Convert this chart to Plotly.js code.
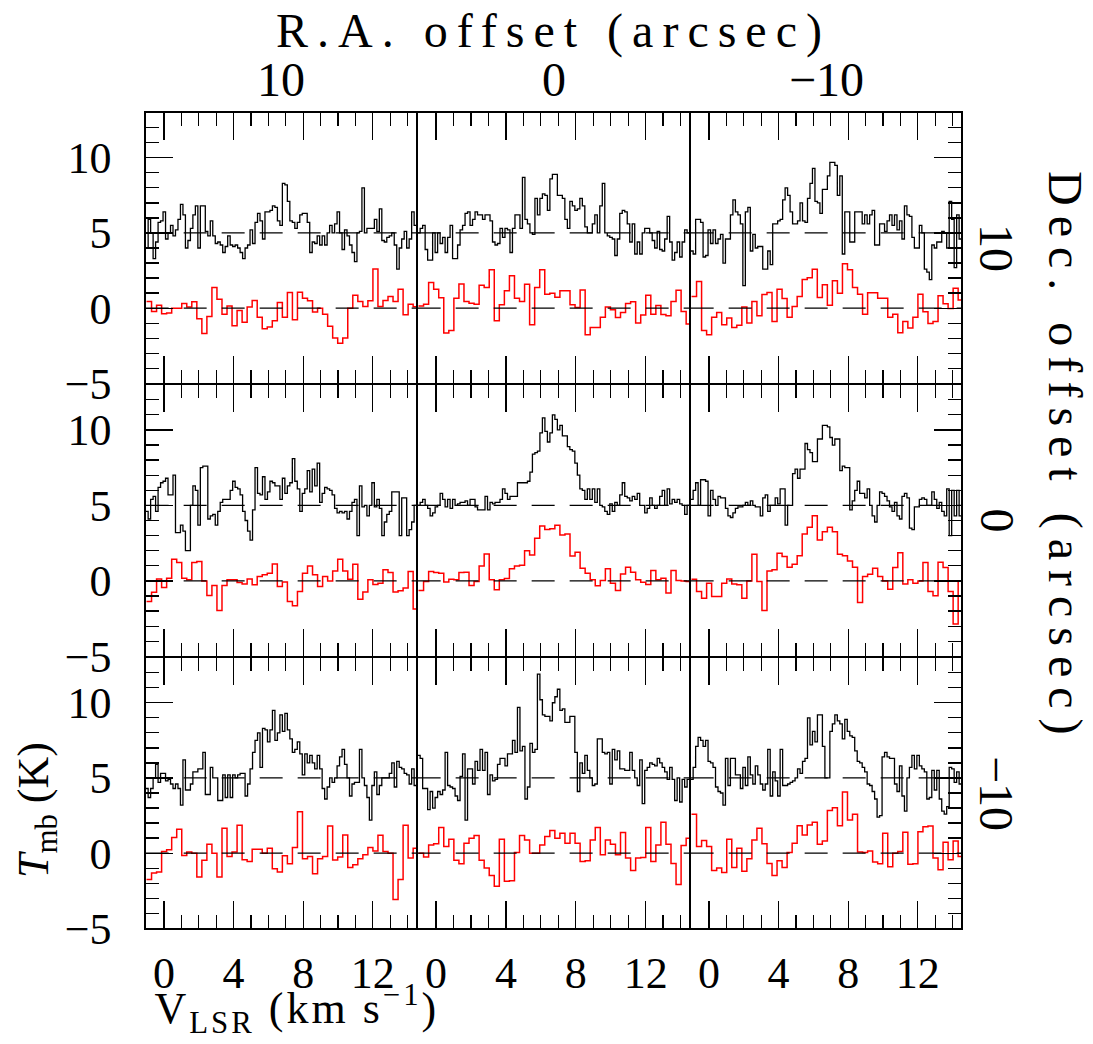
<!DOCTYPE html>
<html><head><meta charset="utf-8">
<script src="https://cdn.plot.ly/plotly-3.0.1.min.js"></script>
<style>html,body{margin:0;padding:0;background:#fff}</style>
</head><body><div id="chart" style="width:1093px;height:1044px"></div>
<script>
// ---------------- data ----------------
const raOffsets = [10, 0, -10];     // columns (arcsec)
const decOffsets = [10, 0, -10];    // rows (arcsec)
const velTicks = [0, 4, 8, 12];
const vStartA = -1.05, dvA = 0.1428;  // black spectrum channel grid (km/s)
const vStartB = -1.0, dvB = 0.289;    // red spectrum channel grid (km/s)
const offsetA = 5;                    // black spectrum is shifted up by 5 K

// black spectra (T_mb, K, before +5 offset)
const blackRA10Dec10 = [-1.0,0.9,0,-1.7,-0.6,0.7,0.8,1.4,-0.4,0,0.5,-0.2,0.2,0.9,1.9,1.2,-1.0,-0.5,0.3,1.2,1.8,-1.0,1.8,1.8,0.1,-0.2,0.8,-0.2,-0.7,-0.6,-0.8,-1.3,-0.9,-0.2,-0.8,-0.9,-0.8,-1.0,-1.3,-1.7,-1.0,-0.8,0.2,-0.7,0.7,1.3,0.8,-0.4,1.4,1.4,1.5,1.8,1.7,0.8,0.5,3.3,3.2,2.1,0.8,0.7,0.3,0.7,1.2,1.3,1.3,0.7,-1.3,-0.6,-0.7,-0.2,-0.8,-0.2,-0.8,0,0.5,0,0.6,1.4,0,-1.1,0.2,-0.2,-0.8,-1.3,-1.9,0,0.1,3.0,0,0.3,0.3,0.3,0.9,0.1,1.6,-0.5,-0.6,-0.3,-0.2,0,-0.8,-2.4,-1.0,-0.4,0.1,-1.0,-0.4,1.4,0.5];
const blackRA0Dec10 = [0,0.3,0.5,-1.1,-1.8,-1.8,0,-1.3,0,-0.7,-0.3,-1.3,-0.3,0.5,-1.7,-1.7,-0.8,0.2,0.5,1.3,1.4,0.5,0.9,1.4,1.2,1.2,0.9,1.2,1.2,0.8,-0.6,-0.8,-0.7,0.3,-0.3,0.3,0.2,-1.3,0.3,1.2,1.2,0.3,3.7,0.9,0.6,0,-0.1,2.3,1.2,2.3,2.6,2.5,1.5,3.6,3.9,3.9,2.5,2.5,2.3,0.9,0.3,2.1,1.8,1.5,1.6,2.3,1.8,0.4,0,0,0.6,1.2,0,1.8,3.3,0,-0.2,-0.3,-0.4,-1.5,-0.4,1.3,1.5,1.4,0.6,-0.6,0.6,-1.4,-0.6,-1.4,0,0.3,0.3,0,-0.5,-1.0,0.1,-1.1,-1.2,-0.4,1.1,-0.6,-1.8,-1.3,-0.6,-1.6,-0.6,0.2,0];
const blackRAm10Dec10 = [-1.2,-1.4,0.9,0.9,0.7,-1.6,-1.5,0.2,-0.7,0.2,-0.7,-0.4,-0.1,-2.0,-0.4,-0.4,1.2,2.2,1.4,1.2,0.6,-3.5,1.4,1.7,-1.2,-0.1,-1.0,-0.9,-0.9,-2.4,-2.4,-1.2,-2.1,0.6,0.6,0.8,0.9,2.2,3.0,2.5,1.4,0.6,0.6,0.8,2.0,0.8,0.7,2.3,3.3,4.3,2.1,2.0,1.3,2.9,2.9,3.8,4.7,4.7,4.5,2.5,3.8,-1.4,1.4,1.4,-0.6,-0.6,1.4,1.4,1.4,0.6,1.2,0.6,1.2,1.5,-0.8,-0.8,0.6,0.6,0.1,0.8,1.2,0.5,1.2,0.2,0.8,-0.4,1.8,1.2,1.1,-0.3,-1.0,-1.0,0.5,0,-2.4,-2.6,-3.1,-0.8,-1.0,-0.6,-0.6,0.1,0,-1.0,2.1,0.9,-2.3,1.2,-0.4];
const blackRA10Dec0 = [-0.4,-0.9,0.4,0.6,-0.4,1.2,1.5,1.6,1.8,0.7,0.7,2.0,-1.8,-1.8,-1.3,-1.7,-3.0,-3.0,0,1.3,1.0,-1.3,2.5,2.6,2.6,-0.9,-0.7,-0.6,-1.3,-0.4,0.2,0.4,0.4,0.4,1.0,1.6,1.2,1.1,0.7,-0.4,-1.0,-1.7,-2.3,-0.3,2.5,0.8,0.7,1.9,0.4,0.9,1.6,1.5,1.3,1.3,0.4,1.8,0.8,1.3,1.5,3.1,1.6,1.1,-0.4,0.8,1.1,2.3,0.9,2.4,1.3,2.8,0.2,0.8,1.2,1.1,1.0,0.7,-0.2,-0.5,-0.4,-0.5,-0.4,-0.9,-0.4,0.2,0.4,-2.0,1.3,-0.1,0,-0.7,0,1.5,-0.1,0.4,-0.2,-2.0,-1.1,-0.6,-0.4,0.9,0.9,0.9,-2.0,0.5,0.5,-2.0,-1.6,-1.1,0];
const blackRA0Dec0 = [0,0.2,0.4,0,-0.2,-0.7,-0.5,-0.1,0,0.8,0.4,-0.1,0.4,-0.2,0.4,0,0.1,0.2,0.2,0.3,0,0.4,0.4,-0.1,-0.3,-0.3,-0.3,0.6,-0.3,0.2,0.1,0.2,0.2,0.4,1.1,0.8,0.4,0.6,0.6,0.6,1.5,1.5,1.5,1.5,1.6,2.2,3.4,3.5,3.6,4.8,5.8,4.9,4.2,4.8,6.0,5.7,5.0,5.3,4.6,4.6,3.9,3.7,3.6,2.8,2.0,1.1,1.0,0.4,1.1,0.4,1.1,0.2,1.1,0,-0.1,-0.4,-0.6,0.1,-0.4,0.2,0,0.7,1.5,0.6,0.5,0.3,0.6,0.4,0.8,0,0,-0.5,-0.2,0.5,0,-0.2,0,0.6,1.0,0,1.1,0.1,0.4,0.2,0.4,0.1,0,-0.6,0];
const blackRAm10Dec0 = [0.4,1.0,1.5,0,1.7,1.7,1.6,-0.7,1.0,0.4,0,0.6,0.5,0.5,-0.2,-0.7,-0.8,-0.5,-0.2,-0.1,-0.1,0,0.2,0,0.3,0,-0.1,-0.1,-0.7,0.5,0.7,-0.4,0,0,0.5,0.1,1.1,1.1,-1.3,0,0,2.1,2.4,1.8,2.4,2.4,4.1,3.7,3.5,2.9,2.9,4.4,4.4,5.3,5.3,5.2,4.5,4.0,4.4,4.4,2.3,2.6,2.5,2.5,-0.3,0.3,1.0,1.6,0.8,0.8,0.5,1.1,0,-0.7,-1.1,0,0.9,0.8,0.6,0.3,-0.1,-0.4,0.2,-0.7,-0.9,0.6,0.8,0.5,-1.5,-1.6,-0.1,-0.1,0.4,0.5,0.4,0,0,0.9,0.4,-0.2,0.2,-0.4,-0.7,1.1,-2.0,1.0,-0.7,1.0,-0.7];
const blackRA10Decm10 = [-0.7,-1.3,-0.7,0,0.9,-0.3,0.3,0.3,-0.2,-0.1,-0.4,-0.7,-0.4,-0.7,-1.8,1.2,-0.8,-0.8,-0.4,0.4,0.4,0.6,0.6,1.7,-1.1,-1.1,0.7,0,0,-1.5,-1.5,0.2,-1.3,0.2,-1.3,0.2,0,0.2,0.3,0.3,-1.2,-0.4,0.6,1.7,2.5,3.0,0.7,3.3,3.2,2.4,3.2,4.5,2.5,3.0,4.2,3.1,4.3,3.2,2.6,1.7,1.9,2.4,1.6,0.2,1.6,1.0,1.5,1.0,0.6,1.5,0.6,-0.7,-1.4,-0.6,0,-0.3,0,0.8,1.4,1.9,0.9,0,-1.2,-0.4,-0.3,-0.3,1.9,0,-0.5,-1.3,-2.8,-0.5,0.4,-1.1,-0.5,0,0,0,0.3,1.0,-0.6,1.1,0.7,0.6,0.3,0.2,-0.4,0.6,-0.5];
const blackRA0Decm10 = [1.5,1.3,-0.7,-0.7,-2.1,-0.9,-2.0,-1.3,-0.9,-1.1,-0.8,1.7,-0.5,-0.6,-0.7,-1.2,-1.5,0.1,1.6,-2.8,0.6,0.6,-0.4,1.1,0.5,1.9,0.5,1.7,-1.1,0.2,-0.2,-0.1,0.9,1.3,1.3,0.8,1.6,1.6,2.5,1.7,4.7,1.8,2.1,-1.4,-0.6,2.3,1.7,1.9,6.9,5.2,4.2,4.1,4.1,3.8,5.0,5.4,5.9,4.5,4.6,3.7,3.7,4.1,4.1,1.7,-0.9,1.0,0.3,1.5,0.5,0,-0.5,-0.4,2.6,2.6,1.7,1.6,1.7,-0.4,1.9,1.2,1.8,0.6,0.6,0.5,0.5,1.7,0.5,0,-0.5,1.2,-1.7,0.5,0.7,1.0,0.9,0.8,1.3,1.0,0.7,0.4,-0.1,0.7,-0.1,-1.5,0,-1.6,-0.1,-0.6,-0.1];
const blackRAm10Decm10 = [-0.1,0.7,2.1,2.7,2.5,2.1,2.5,1.1,1.0,0.7,-0.6,-0.9,-1.0,-1.8,1.3,-0.5,1.3,1.3,0.2,0.2,-0.7,0.7,-0.5,1.4,0.2,-0.4,0.8,0.2,-0.4,-0.8,-0.4,1.9,-1.2,0.4,-0.2,-1.2,1.9,-0.5,-0.5,-0.4,-0.3,-0.2,0,0.6,0.3,1.1,1.3,4.0,2.2,3.1,2.4,4.2,4.2,2.1,0,0,3.1,3.6,4.2,3.8,3.6,2.6,3.9,3.1,2.8,2.7,1.8,1.1,1.0,0.7,0.4,-0.4,-0.5,-0.9,-1.4,-2.6,-2.5,1.4,1.7,1.4,1.3,1.3,-0.4,-0.9,0.8,-1.2,-2.2,0,0.7,1.5,0.6,1.5,0.8,0.6,0.4,-1.4,-1.3,0.5,-0.8,0.5,-1.4,-2.2,-2.4,-1.9,0.7,0.6,-0.3,0.4,-0.4];

// red spectra (T_mb, K)
const redRA10Dec10 = [0.44,-0.22,0.2,-0.38,-0.33,0,0,0.31,0.07,0.42,-0.71,-1.68,-0.55,1.37,0.6,-0.4,0.15,-1.17,-0.15,-0.93,0.07,0.51,-0.6,-1.37,-1.26,-0.84,0.38,-0.6,1.04,-0.77,1.06,0.66,0.49,-0.26,0,-0.4,-1.21,-1.99,-2.34,-1.99,0,0.86,0.44,0.11,0.49,2.6,0.11,0.51,0.77,0.44,1.26,-0.44,0.26,0.1];
const redRA0Dec10 = [0.15,0.26,1.7,1.26,0.7,-1.66,-1.48,0.66,1.61,0.44,0.33,0.26,1.52,1.37,2.56,-0.84,0.22,1.15,2.16,0.66,0.44,1.59,-1.1,1.37,2.56,0.93,0.99,0.73,1.15,1.15,0.22,0.04,1.21,-1.77,-1.28,-1.28,-0.6,0.07,-0.11,-0.62,-0.29,0.31,0.42,-0.99,-0.46,0.86,-0.4,0.18,-0.42,-0.51,0.44,1.19,-0.22,-1.06];
const redRAm10Dec10 = [0.77,1.77,-1.48,-1.77,-0.6,-0.29,-1.1,-0.66,-1.28,-1.13,0.07,-0.99,0.44,-0.51,0.9,1.04,-0.88,1.26,0.64,-0.6,0.11,0.77,1.9,2.03,2.58,0.71,1.55,0.2,1.83,0.99,2.96,2.56,1.37,0.93,-0.4,1.02,1.02,0.66,0.66,-0.6,-0.4,-1.63,-0.88,-1.32,-0.6,0.93,-0.24,-1.02,-0.88,0.82,0.29,-0.02,1.32,0.55];
const redRA10Dec0 = [-1.37,-0.75,0.13,-0.44,0.18,1.43,1.21,0.18,0.07,1.21,1.28,0,-0.97,-0.31,-1.96,-0.31,0.07,0.07,-0.11,-0.2,0.13,-0.26,0.29,0.4,0.51,1.12,-0.37,-0.07,-1.37,-1.65,-0.7,0.51,0.99,0.4,-0.37,0.29,0,0.66,1.43,0.66,0.11,1.1,-1.21,-0.73,0.07,-0.24,-0.15,0.73,0.55,-0.73,-0.66,-0.48,0.62,-1.87];
const redRA0Dec0 = [-0.64,-0.04,0.62,0.55,0.51,-0.07,0.11,0.07,0.55,0.57,-0.31,-0.04,0.99,1.78,0.07,-0.59,0.07,0.15,0.81,0.99,1.04,2.0,1.72,2.82,3.63,3.41,3.46,3.68,3.04,3.1,1.65,1.89,0.84,0.51,0.07,-0.33,0.02,0.81,-0.15,-0.64,0.46,0.9,0.57,0.07,-0.09,-0.24,0.68,0.07,0.18,-0.81,0.68,0.02,0,-0.04];
const redRAm10Dec0 = [0.11,-0.7,-1.15,-0.15,-1.04,-1.04,-0.15,0.13,-0.2,-0.26,-1.15,0,1.76,-0.04,-1.96,0.66,0.73,1.83,1.61,0.9,1.1,1.67,3.11,3.55,4.32,2.71,3.26,3.55,3.26,1.76,1.67,1.32,0.9,-1.43,0.29,0.44,0.84,0.29,0,-0.55,0.88,1.87,-0.2,0.07,-0.15,0,1.21,-0.7,-0.99,1.23,0.88,-0.7,-2.86,0.0];
const redRA10Decm10 = [-1.76,-1.32,-1.26,0.11,0.22,1.04,1.59,-0.15,0.07,0,-1.59,-0.48,0.59,0,-1.59,1.65,-0.22,0.07,1.85,-0.44,-0.55,0.26,0.26,0,0.33,-1.04,-1.26,-0.18,-0.7,0.37,2.75,-0.37,-0.22,-1.37,-0.37,-0.22,1.81,-0.46,-0.26,1.21,-0.95,-0.77,-0.37,-0.11,0.37,0.15,1.19,0.11,0,-3.08,-1.76,1.85,-0.33,0.33];
const redRA0Decm10 = [0,-0.26,0.55,0.62,1.7,0.44,0.93,-0.48,-0.7,0.66,0.99,1.17,-0.48,-0.99,-1.48,-2.2,0.93,-1.87,-1.83,0.04,1.17,0.88,0,0,0.55,1.1,1.5,0.99,1.32,0.66,1.32,0.66,-0.55,-0.51,0.88,1.7,-0.11,0.88,0.59,-0.11,1.37,-0.33,-1.15,-0.33,-0.29,1.7,-0.55,0.55,2.05,0.59,-0.68,-2.09,0.51,0.99];
const redRAm10Decm10 = [2.58,0.44,0.84,0.44,-1.15,-0.99,-1.28,0.93,-0.95,0.33,-1.21,-0.37,0.88,1.65,0.62,-0.68,-1.48,-0.51,-0.95,0.04,0.66,1.83,1.21,1.87,2.05,0.59,0.81,2.84,3.02,1.83,4.07,2.2,2.58,0.07,0.04,0.15,-0.59,-0.7,1.32,-0.9,0,0.11,1.39,-0.73,-0.7,1.43,1.76,1.81,-0.33,-1.1,0.73,-0.44,0.81,-0.22];

// grid: rows = Dec offset, columns = R.A. offset
const blackGrid = [[blackRA10Dec10, blackRA0Dec10, blackRAm10Dec10],
                   [blackRA10Dec0, blackRA0Dec0, blackRAm10Dec0],
                   [blackRA10Decm10, blackRA0Decm10, blackRAm10Decm10]];
const redGrid = [[redRA10Dec10, redRA0Dec10, redRAm10Dec10],
                 [redRA10Dec0, redRA0Dec0, redRAm10Dec0],
                 [redRA10Decm10, redRA0Decm10, redRAm10Decm10]];

// ---------------- layout ----------------
const W = 1093, H = 1044;
const LW = 1.3;                       // frame line width
const colEdges = [145, 417, 690, 962]; // frame line centres (px)
const rowEdges = [112, 384, 657, 929];
const FONT = '"Liberation Serif", "Times New Roman", serif';
const XR = [-1.05, 14.5], YR = [-5, 13];

function steps(vals, v0, dv, off) {
  const x = [], y = [];
  for (let i = 0; i < vals.length; i++) { x.push(v0 + i * dv); y.push(vals[i] + off); }
  x.push(v0 + vals.length * dv); y.push(vals[vals.length - 1] + off);
  return {x, y};
}
function fmt(v) { return v < 0 ? '\u2212' + Math.abs(v) : String(v); }

const traces = [];
const shapes = [];
const layout = {
  width: W, height: H,
  margin: {l: 0, r: 0, t: 0, b: 0, pad: 0},
  paper_bgcolor: '#fff', plot_bgcolor: '#fff',
  showlegend: false,
  font: {family: FONT, color: '#000'},
};

for (let r = 0; r < 3; r++) {
  for (let c = 0; c < 3; c++) {
    const n = r * 3 + c + 1;
    const sfx = n === 1 ? '' : String(n);
    const xa = 'x' + sfx, ya = 'y' + sfx;
    const b = steps(blackGrid[r][c], vStartA, dvA, offsetA);
    const rd = steps(redGrid[r][c], vStartB, dvB, 0);
    traces.push({type: 'scatter', mode: 'lines', x: rd.x, y: rd.y, xaxis: xa, yaxis: ya,
      line: {shape: 'hv', color: '#ff0000', width: 1.5}, hoverinfo: 'skip'});
    traces.push({type: 'scatter', mode: 'lines', x: b.x, y: b.y, xaxis: xa, yaxis: ya,
      line: {shape: 'hv', color: '#000000', width: 1.3}, hoverinfo: 'skip'});
    [0, offsetA].forEach(lv => shapes.push({type: 'line', xref: xa, yref: ya,
      x0: XR[0], x1: XR[1], y0: lv, y1: lv, layer: 'above',
      line: {color: '#000', width: 1.3, dash: '23px,15px'}}));

    const xl = colEdges[c] + LW / 2, xr = colEdges[c + 1] - LW / 2;
    const yt = rowEdges[r] + LW / 2, yb = rowEdges[r + 1] - LW / 2;
    layout['xaxis' + sfx] = {
      domain: [xl / W, xr / W], anchor: ya, range: XR,
      tickmode: 'array', tickvals: velTicks, ticktext: velTicks.map(fmt),
      ticks: 'inside', ticklen: 27, tickwidth: 1.3, tickcolor: '#000',
      mirror: 'ticks', showline: true, linecolor: '#000', linewidth: LW,
      showgrid: false, zeroline: false, showticklabels: r === 2,
      tickfont: {family: FONT, size: 44, color: '#000'}, ticklabelstandoff: 6,
      minor: {dtick: 1, tick0: 0, ticklen: 13, tickwidth: 1.3, tickcolor: '#000', ticks: 'inside', showgrid: false},
      fixedrange: true
    };
    const yax = {
      domain: [1 - yb / H, 1 - yt / H], anchor: xa, range: YR,
      tick0: -5, dtick: 5, showline: true, mirror: true, linecolor: '#000', linewidth: LW,
      showgrid: false, zeroline: false, side: c === 2 ? 'right' : 'left',
      showticklabels: c === 0,
      tickfont: {family: FONT, size: 44, color: '#000'}, ticklabelstandoff: 24,
      fixedrange: true
    };
    if (c === 1) {
      yax.ticks = '';
    } else {
      yax.ticks = 'inside'; yax.ticklen = 27; yax.tickwidth = 1.3; yax.tickcolor = '#000';
      yax.minor = {dtick: 1, tick0: -5, ticklen: 13, tickwidth: 1.3, tickcolor: '#000', ticks: 'inside', showgrid: false};
    }
    layout['yaxis' + sfx] = yax;
  }
}
layout.shapes = shapes;

const ann = [];
const lab = {family: FONT, size: 48, color: '#000'};
raOffsets.forEach((ra, c) => ann.push({text: fmt(ra), xref: 'paper', yref: 'paper',
  x: (colEdges[c] + colEdges[c + 1]) / 2 / W, y: 1 - 80 / H, showarrow: false,
  xanchor: 'center', yanchor: 'middle', font: lab}));
decOffsets.forEach((d, r) => ann.push({text: fmt(d), xref: 'paper', yref: 'paper',
  x: 997 / W, y: 1 - (rowEdges[r] + rowEdges[r + 1]) / 2 / H, showarrow: false, textangle: 90,
  xanchor: 'center', yanchor: 'middle', font: lab}));
ann.push({text: 'R.A. offset (arcsec)', xref: 'paper', yref: 'paper', x: 553 / W, y: 1 - 31 / H,
  showarrow: false, xanchor: 'center', yanchor: 'middle', font: {family: FONT, size: 48, color: '#000'}});
ann.push({text: 'Dec. offset (arcsec)', xref: 'paper', yref: 'paper', x: 1065 / W, y: 1 - 458 / H,
  showarrow: false, textangle: 90, xanchor: 'center', yanchor: 'middle', font: {family: FONT, size: 48, color: '#000'}});
ann.push({text: '<i>T</i><sub>mb</sub> (K)', xref: 'paper', yref: 'paper', x: 36 / W, y: 1 - 810 / H,
  showarrow: false, textangle: -90, xanchor: 'center', yanchor: 'middle', font: {family: FONT, size: 44, color: '#000'}});
ann.push({text: 'V<sub>LSR</sub> (km s<sup>\u22121</sup>)', xref: 'paper', yref: 'paper', x: 297 / W, y: 1 - 1009 / H,
  showarrow: false, xanchor: 'center', yanchor: 'middle', font: {family: FONT, size: 44, color: '#000'}});
layout.annotations = ann;

Plotly.newPlot('chart', traces, layout, {staticPlot: true, displayModeBar: false}).then(gd => {
  const spacing = {6: 9, 7: 10, 9: 3};
  gd.querySelectorAll('g.annotation').forEach(g => {
    const i = +g.getAttribute('data-index');
    if (spacing[i] != null) {
      const t = g.querySelector('text.annotation-text');
      if (t) t.style.letterSpacing = spacing[i] + 'px';
    }
  });
});
</script>
</body></html>
